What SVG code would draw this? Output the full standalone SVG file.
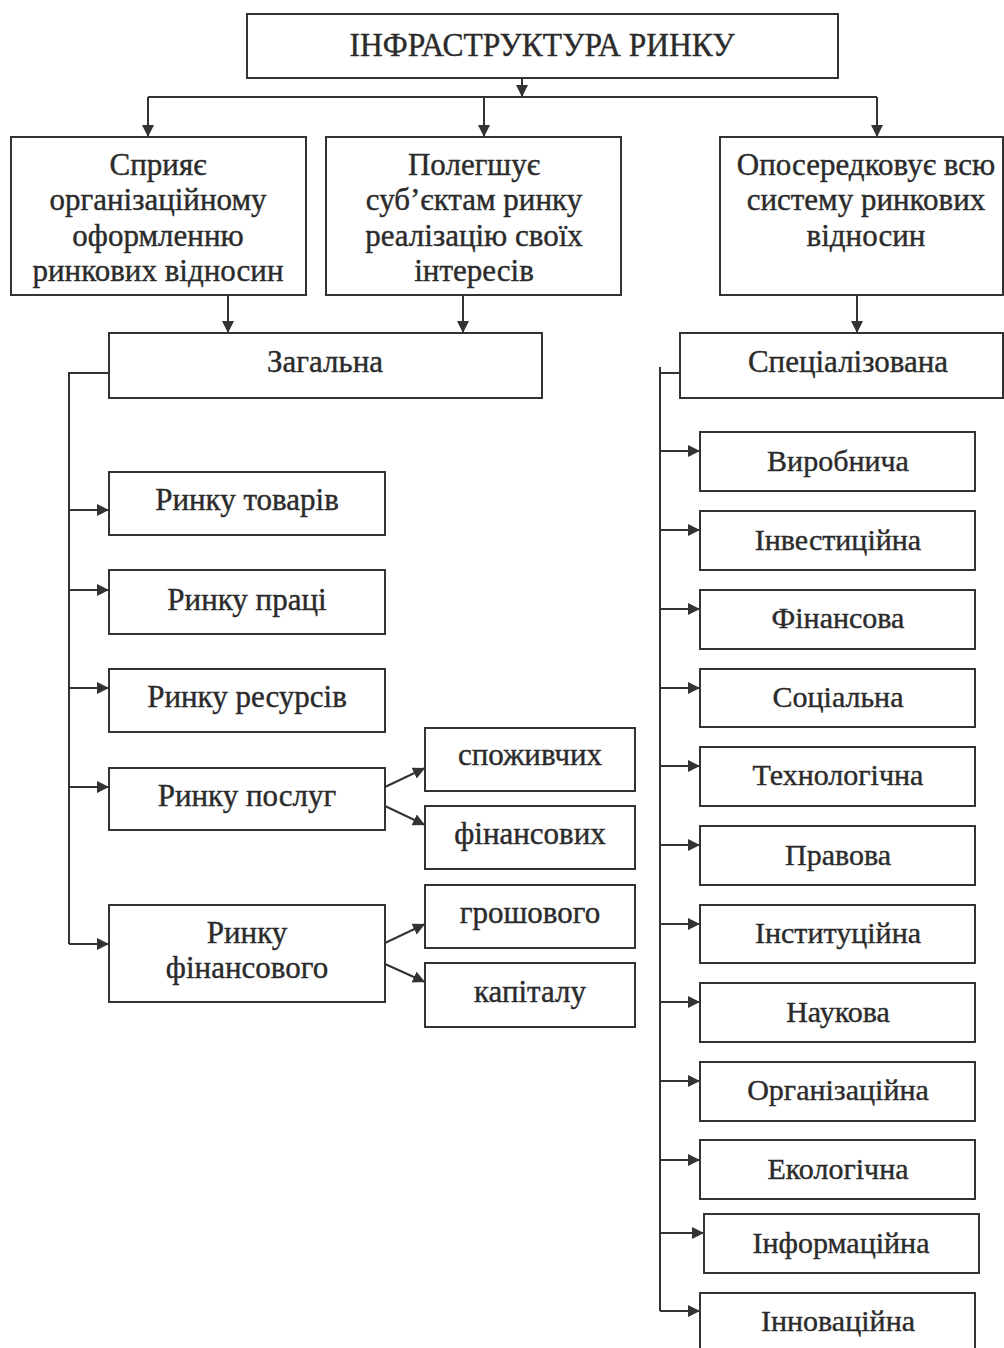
<svg xmlns="http://www.w3.org/2000/svg" width="1004" height="1348" viewBox="0 0 1004 1348">
<style>
.b{fill:#fff;stroke:#333;stroke-width:2}
.c{fill:none;stroke:#333;stroke-width:2}
text{font-family:"Liberation Serif","Times New Roman",serif;font-size:31px;fill:#2b2b2b;stroke:#2b2b2b;stroke-width:0.4;text-anchor:middle}
.s{font-size:30px}
</style>
<defs>
<marker id="a" markerUnits="userSpaceOnUse" markerWidth="14" markerHeight="12" refX="12" refY="6" orient="auto"><path d="M0,0 L12,6 L0,12 Z" fill="#333"/></marker>
</defs>
<rect width="1004" height="1348" fill="#fff"/>
<g id="connectors" class="c">
<path d="M522 78 V97" marker-end="url(#a)"/>
<path d="M148 97 H877"/>
<path d="M148 97 V137" marker-end="url(#a)"/>
<path d="M484 97 V137" marker-end="url(#a)"/>
<path d="M877 97 V137" marker-end="url(#a)"/>
<path d="M228 295 V333" marker-end="url(#a)"/>
<path d="M463 295 V333" marker-end="url(#a)"/>
<path d="M857 295 V333" marker-end="url(#a)"/>
<path d="M109 373 H69 V944"/>
<path d="M69 510 H109" marker-end="url(#a)"/>
<path d="M69 590 H109" marker-end="url(#a)"/>
<path d="M69 688 H109" marker-end="url(#a)"/>
<path d="M69 787 H109" marker-end="url(#a)"/>
<path d="M69 944 H109" marker-end="url(#a)"/>
<path d="M385 787 L425 768" marker-end="url(#a)"/>
<path d="M385 806 L425 825" marker-end="url(#a)"/>
<path d="M385 943 L425 924" marker-end="url(#a)"/>
<path d="M385 964 L425 982" marker-end="url(#a)"/>
<path d="M680 373 H660"/>
<path d="M660 367 V1311"/>
<path d="M660 451 H700" marker-end="url(#a)"/>
<path d="M660 530 H700" marker-end="url(#a)"/>
<path d="M660 609 H700" marker-end="url(#a)"/>
<path d="M660 688 H700" marker-end="url(#a)"/>
<path d="M660 766 H700" marker-end="url(#a)"/>
<path d="M660 845 H700" marker-end="url(#a)"/>
<path d="M660 924 H700" marker-end="url(#a)"/>
<path d="M660 1002 H700" marker-end="url(#a)"/>
<path d="M660 1081 H700" marker-end="url(#a)"/>
<path d="M660 1160 H700" marker-end="url(#a)"/>
<path d="M660 1233 H704" marker-end="url(#a)"/>
<path d="M660 1311 H700" marker-end="url(#a)"/>
</g>
<g id="root"><rect class="b" x="247" y="14" width="591" height="64"/><text x="542" y="56" style="font-size:34px" textLength="385" lengthAdjust="spacingAndGlyphs">ІНФРАСТРУКТУРА РИНКУ</text></g>
<g id="f1"><rect class="b" x="11" y="137" width="295" height="158"/>
<text x="158" y="175">Сприяє</text><text x="158" y="210">організаційному</text><text x="158" y="246">оформленню</text><text x="158" y="281">ринкових відносин</text></g>
<g id="f2"><rect class="b" x="326" y="137" width="295" height="158"/>
<text x="474" y="175">Полегшує</text><text x="474" y="210">суб’єктам ринку</text><text x="474" y="246">реалізацію своїх</text><text x="474" y="281">інтересів</text></g>
<g id="f3"><rect class="b" x="720" y="137" width="283" height="158"/>
<text x="866" y="175">Опосередковує всю</text><text x="866" y="210">систему ринкових</text><text x="866" y="246">відносин</text></g>
<g id="general"><rect class="b" x="109" y="333" width="433" height="65"/><text x="325" y="372">Загальна</text></g>
<g id="special"><rect class="b" x="680" y="333" width="323" height="65"/><text x="848" y="372">Спеціалізована</text></g>
<g id="l1"><rect class="b" x="109" y="472" width="276" height="63"/><text x="247" y="510">Ринку товарів</text></g>
<g id="l2"><rect class="b" x="109" y="570" width="276" height="64"/><text x="247" y="610">Ринку праці</text></g>
<g id="l3"><rect class="b" x="109" y="669" width="276" height="63"/><text x="247" y="707">Ринку ресурсів</text></g>
<g id="l4"><rect class="b" x="109" y="768" width="276" height="62"/><text x="247" y="806">Ринку послуг</text></g>
<g id="l5"><rect class="b" x="109" y="905" width="276" height="97"/><text x="247" y="943">Ринку</text><text x="247" y="978">фінансового</text></g>
<g id="s1"><rect class="b" x="425" y="728" width="210" height="63"/><text x="530" y="765">споживчих</text></g>
<g id="s2"><rect class="b" x="425" y="806" width="210" height="63"/><text x="530" y="844">фінансових</text></g>
<g id="s3"><rect class="b" x="425" y="885" width="210" height="63"/><text x="530" y="923">грошового</text></g>
<g id="s4"><rect class="b" x="425" y="963" width="210" height="64"/><text x="530" y="1002">капіталу</text></g>
<g id="r1"><rect class="b" x="700" y="432" width="275" height="59"/><text class="s" x="838" y="471">Виробнича</text></g>
<g id="r2"><rect class="b" x="700" y="511" width="275" height="59"/><text class="s" x="838" y="550">Інвестиційна</text></g>
<g id="r3"><rect class="b" x="700" y="590" width="275" height="59"/><text class="s" x="838" y="628">Фінансова</text></g>
<g id="r4"><rect class="b" x="700" y="669" width="275" height="58"/><text class="s" x="838" y="707">Соціальна</text></g>
<g id="r5"><rect class="b" x="700" y="747" width="275" height="59"/><text class="s" x="838" y="785">Технологічна</text></g>
<g id="r6"><rect class="b" x="700" y="826" width="275" height="59"/><text class="s" x="838" y="865">Правова</text></g>
<g id="r7"><rect class="b" x="700" y="905" width="275" height="58"/><text class="s" x="838" y="943">Інституційна</text></g>
<g id="r8"><rect class="b" x="700" y="983" width="275" height="59"/><text class="s" x="838" y="1022">Наукова</text></g>
<g id="r9"><rect class="b" x="700" y="1062" width="275" height="59"/><text class="s" x="838" y="1100">Організаційна</text></g>
<g id="r10"><rect class="b" x="700" y="1140" width="275" height="59"/><text class="s" x="838" y="1179">Екологічна</text></g>
<g id="r11"><rect class="b" x="704" y="1214" width="275" height="59"/><text class="s" x="841" y="1253">Інформаційна</text></g>
<g id="r12"><rect class="b" x="700" y="1293" width="275" height="70"/><text class="s" x="838" y="1331">Інноваційна</text></g>
</svg>
